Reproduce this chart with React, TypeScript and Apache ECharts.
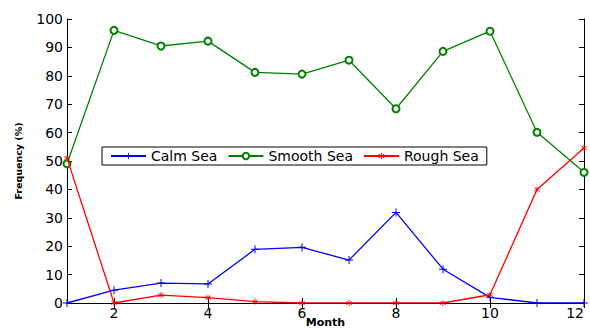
import React, { useEffect, useRef } from "react";
import * as echarts from "echarts";

const months = [1, 2, 3, 4, 5, 6, 7, 8, 9, 10, 11, 12];
const calmSea = [0, 4.5, 7.0, 6.7, 18.9, 19.6, 15.1, 31.9, 11.9, 2.0, 0, 0];
const smoothSea = [49.0, 96.0, 90.5, 92.2, 81.2, 80.6, 85.5, 68.4, 88.6, 95.7, 60.1, 46.0];
const roughSea = [51.0, 0, 2.8, 1.9, 0.5, 0, 0, 0, 0, 2.9, 40.0, 54.6];
const xTicks = [2, 4, 6, 8, 10, 12];

const plusPath = "path://M3.5,0 H4.5 V3.5 H8 V4.5 H4.5 V8 H3.5 V4.5 H0 V3.5 H3.5 Z";
const starPath =
  "path://M3.5,0 H4.5 V3.2 L6.8,1.2 L7.4,1.9 L5,4 L7.4,6.1 L6.8,6.8 L4.5,4.8 V8 H3.5 V4.8 L1.2,6.8 L0.6,6.1 L3,4 L0.6,1.9 L1.2,1.2 L3.5,3.2 Z";

export default function App() {
  const ref = useRef<HTMLDivElement>(null);
  useEffect(() => {
    document.body.style.margin = "0";
    const chart = echarts.init(ref.current!, undefined, { renderer: "svg" });
    const font = "'DejaVu Sans', sans-serif";
    const pair = (arr: number[]) => months.map((m, i) => [m, arr[i]]);
    const baseX = {
      type: "value" as const,
      min: 1,
      max: 12,
      axisLine: { show: true, lineStyle: { color: "#000", width: 1 } },
      splitLine: { show: false },
      axisTick: { inside: true, length: 5, customValues: xTicks, lineStyle: { color: "#000" } },
    };
    const baseY = {
      type: "value" as const,
      min: 0,
      max: 100,
      interval: 10,
      axisLine: { show: true, lineStyle: { color: "#000", width: 1 } },
      splitLine: { show: false },
      axisTick: { inside: true, length: 5, lineStyle: { color: "#000" } },
    };
    chart.setOption({
      animation: false,
      textStyle: { fontFamily: font },
      grid: { left: 67, right: 6, top: 19, bottom: 26, containLabel: false, outerBoundsMode: "none" },
      legend: {
        left: 102,
        top: 147,
        orient: "horizontal",
        borderColor: "#000",
        borderWidth: 1,
        backgroundColor: "#fff",
        padding: [2, 8, 2, 8],
        itemWidth: 35,
        itemHeight: 8,
        itemGap: 10,
        textStyle: { fontSize: 14, color: "#000", fontFamily: font },
        data: ["Calm Sea", "Smooth Sea", "Rough Sea"],
      },
      xAxis: [
        {
          ...baseX,
          position: "bottom",
          name: "Month",
          nameLocation: "middle",
          nameGap: 13,
          nameMoveOverlap: false,
          nameTextStyle: { fontSize: 11, lineHeight: 12, fontWeight: "bold", color: "#000", fontFamily: font },
          axisLabel: {
            customValues: xTicks,
            fontSize: 14,
            color: "#000",
            margin: 3,
            fontFamily: font,
            alignMaxLabel: "right",
          },
        },
        {
          ...baseX,
          position: "top",
          axisLabel: { show: false },
        },
      ],
      yAxis: [
        {
          ...baseY,
          position: "left",
          name: "Frequency (%)",
          nameLocation: "middle",
          nameGap: 44,
          nameMoveOverlap: false,
          nameTextStyle: { fontSize: 9.5, fontWeight: "bold", color: "#000", fontFamily: font },
          axisLabel: { fontSize: 14, color: "#000", margin: 4, fontFamily: font },
        },
        {
          ...baseY,
          position: "right",
          axisLabel: { show: false },
        },
      ],
      series: [
        {
          name: "Calm Sea",
          type: "line",
          data: pair(calmSea),
          color: "#0000ff",
          lineStyle: { width: 1.3 },
          symbol: plusPath,
          symbolSize: 8,
          z: 4,
        },
        {
          name: "Smooth Sea",
          type: "line",
          data: pair(smoothSea),
          color: "#008000",
          lineStyle: { width: 1.3 },
          symbol: "emptyCircle",
          symbolSize: 7,
          itemStyle: { borderWidth: 1.3 },
          z: 3,
        },
        {
          name: "Rough Sea",
          type: "line",
          data: pair(roughSea),
          color: "#ff0000",
          lineStyle: { width: 1.3 },
          symbol: starPath,
          symbolSize: 6,
          z: 5,
        },
      ],
    });
    return () => chart.dispose();
  }, []);
  return <div ref={ref} style={{ width: 590, height: 329 }} />;
}
